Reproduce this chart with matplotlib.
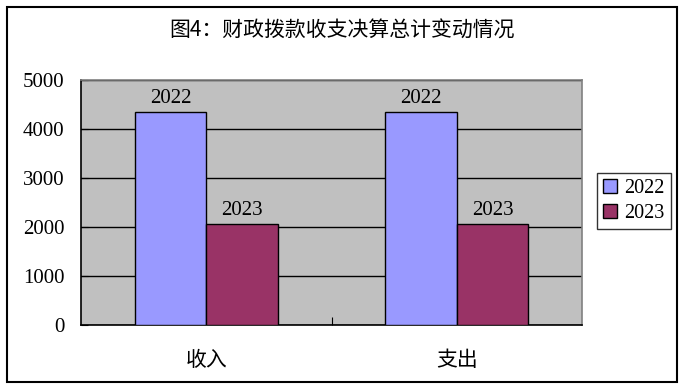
import matplotlib
matplotlib.use('Agg')
import matplotlib.pyplot as plt
import numpy as np
from matplotlib.patches import Rectangle

plt.rcParams['font.family'] = ['Liberation Serif', 'Noto Sans CJK SC']

categories = ['收入', '支出']
series_names = ['2022', '2023']
values_2022 = [4340, 4340]
values_2023 = [2055, 2055]
colors = ['#9999FF', '#993366']

fig = plt.figure(figsize=(6.85, 3.89), dpi=100)
ax = fig.add_axes([81/685, 1 - 325/389, (582 - 81)/685, (325 - 80)/389])
ax.set_facecolor('#C0C0C0')

x = np.arange(len(categories))
w = 1 / 3.5
for i, (name, vals) in enumerate(zip(series_names, [values_2022, values_2023])):
    pos = x - w + i * w + w / 2
    bars = ax.bar(pos, vals, width=w, color=colors[i], edgecolor='black',
                  linewidth=1, label=name, zorder=3)
    for b in bars:
        ax.text(b.get_x() + b.get_width() / 2, b.get_height() + 90, name,
                ha='center', va='bottom', fontsize=15, zorder=4)

ax.set_xlim(-0.5, 1.5)
ax.set_ylim(0, 5000)
ax.set_yticks([0, 1000, 2000, 3000, 4000, 5000])
ax.yaxis.grid(True, color='black', linewidth=1, zorder=1)
ax.set_axisbelow(True)
ax.tick_params(axis='y', labelsize=15, direction='in', length=5, pad=12, color='black')

ax.set_xticks([0.5])
ax.set_xticklabels([''])
ax.tick_params(axis='x', direction='in', length=6, color='black')
for xi, c in zip(x, categories):
    ax.text(xi, -500, c, ha='center', va='top', fontsize=15,
            family=['Noto Sans CJK SC'])

for s in ['left', 'bottom']:
    ax.spines[s].set_color('black')
    ax.spines[s].set_linewidth(1.2)
for s in ['top', 'right']:
    ax.spines[s].set_color('#808080')
    ax.spines[s].set_linewidth(1.2)

leg = ax.legend(loc='upper left', bbox_to_anchor=(597/685, 1 - 173/389),
                bbox_transform=fig.transFigure, fontsize=14.5, frameon=True,
                fancybox=False, edgecolor='black', handlelength=0.7,
                handleheight=0.7, handletextpad=0.35, borderpad=0.3,
                labelspacing=0.3, borderaxespad=0)
leg.get_frame().set_linewidth(1)

fig.text(342/685, 1 - 31/389, '图4：财政拨款收支决算总计变动情况', ha='center',
         va='center', fontsize=15, family=['Noto Sans CJK SC'])

fig.patches.append(Rectangle((7/685, 1 - 382/389), 670/685, 375/389,
                             transform=fig.transFigure, fill=False,
                             edgecolor='black', linewidth=1.5))

fig.savefig('out.png', dpi=100)
